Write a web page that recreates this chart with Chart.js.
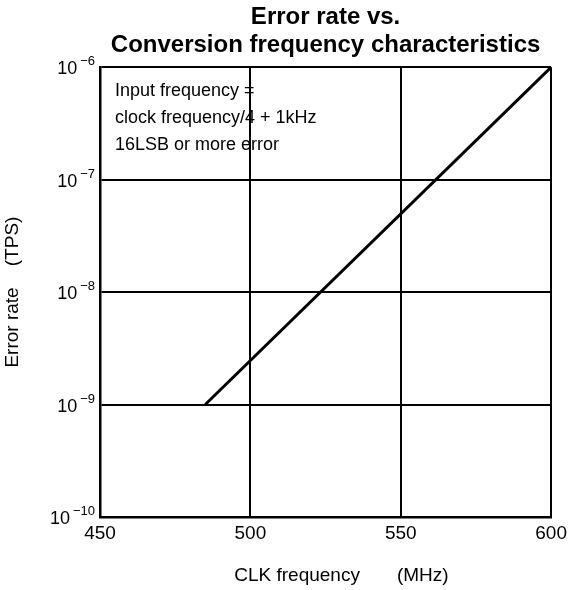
<!DOCTYPE html>
<html>
<head>
<meta charset="utf-8">
<script src="https://cdn.jsdelivr.net/npm/chart.js@4/dist/chart.umd.min.js"></script>
<style>
  html, body { margin: 0; padding: 0; background: #fff; }
  #wrap { width: 572px; height: 590px; }
</style>
</head>
<body>
<div id="wrap"><canvas id="c" width="572" height="590"></canvas></div>
<script>
// ---- data ----
const clkFreq = [485, 600];            // MHz
const errorRate = [1e-9, 1e-6];        // TPS
const xTicks = [450, 500, 550, 600];
const yTickExponents = [-6, -7, -8, -9, -10];
const titleLines = ['Error rate vs.', 'Conversion frequency characteristics'];
const noteLines = ['Input frequency =', 'clock frequency/4 + 1kHz', '16LSB or more error'];
const xTitle = '      CLK frequency       (MHz)';
const yTitle = 'Error rate    (TPS)';

const FONT = '"Liberation Sans", Arial, Helvetica, sans-serif';

const overlay = {
  id: 'overlay',
  afterDraw(chart) {
    const ctx = chart.ctx;
    const y = chart.scales.y;
    const area = chart.chartArea;
    ctx.save();
    ctx.fillStyle = '#000';
    // y tick labels with superscript exponents
    yTickExponents.forEach(e => {
      const py = y.getPixelForValue(Math.pow(10, e));
      const sup = '\u2212' + Math.abs(e);
      ctx.font = '13px ' + FONT;
      ctx.textAlign = 'right';
      ctx.textBaseline = 'alphabetic';
      const supRight = area.left - 5;
      ctx.fillText(sup, supRight, py - 2);
      const supW = ctx.measureText(sup).width;
      ctx.font = '18px ' + FONT;
      ctx.fillText('10', supRight - supW - 3, py + 7);
    });
    // note text
    ctx.font = '18px ' + FONT;
    ctx.textAlign = 'left';
    ctx.textBaseline = 'alphabetic';
    noteLines.forEach((t, i) => {
      ctx.fillText(t, area.left + 15, area.top + 29 + i * 27);
    });
    ctx.restore();
  }
};

new Chart(document.getElementById('c'), {
  type: 'line',
  data: {
    datasets: [{
      data: clkFreq.map((x, i) => ({ x: x, y: errorRate[i] })),
      borderColor: '#000',
      borderWidth: 3,
      pointRadius: 0,
      fill: false,
      tension: 0
    }]
  },
  options: {
    responsive: false,
    animation: false,
    devicePixelRatio: 1,
    layout: { padding: { left: 0, right: 20, top: 0, bottom: 0 } },
    plugins: {
      legend: { display: false },
      tooltip: { enabled: false },
      title: {
        display: true,
        fullSize: false,
        text: titleLines,
        color: '#000',
        font: { family: FONT, size: 24, weight: 'bold', lineHeight: 1.15 },
        padding: { top: 4, bottom: 8 }
      }
    },
    scales: {
      x: {
        type: 'linear',
        min: 450, max: 600,
        afterBuildTicks: s => { s.ticks = xTicks.map(v => ({ value: v })); },
        afterFit: s => { s.height = 73; },
        ticks: {
          color: '#000',
          font: { family: FONT, size: 19 },
          padding: 5,
          maxRotation: 0,
          callback: v => String(v)
        },
        grid: { color: '#000', lineWidth: 2, drawTicks: false },
        border: { color: '#000', width: 2.5 },
        title: {
          display: true,
          text: xTitle,
          color: '#000',
          font: { family: FONT, size: 19 },
          padding: { top: 0, bottom: 3 }
        }
      },
      y: {
        type: 'logarithmic',
        min: 1e-10, max: 1e-6,
        afterBuildTicks: s => { s.ticks = yTickExponents.map(e => ({ value: Math.pow(10, e) })); },
        afterFit: s => { s.width = 100; },
        ticks: { display: false },
        grid: { color: '#000', lineWidth: 2, drawTicks: false },
        border: { color: '#000', width: 2.5 },
        title: {
          display: true,
          text: yTitle,
          color: '#000',
          font: { family: FONT, size: 19 },
          padding: { top: 1, bottom: 0 }
        }
      }
    }
  },
  plugins: [overlay]
});
</script>
</body>
</html>
